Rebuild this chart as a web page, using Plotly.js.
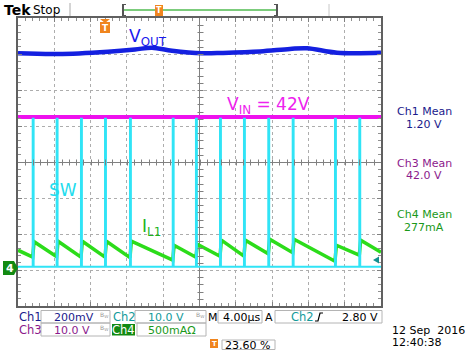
<!DOCTYPE html>
<html>
<head>
<meta charset="utf-8">
<script src="https://cdn.plot.ly/plotly-3.0.1.min.js"></script>
<style>html,body{margin:0;padding:0;background:#fff;}#plot{width:468px;height:351px;}</style>
</head>
<body>
<div id="plot"></div>
<script>
// ---- data read from the scope screen ----
// switching instants of SW (µs, relative to screen centre)
const swTimes   = [-18.38,-15.74,-13.06,-10.41,-7.66,-2.95,-0.39,2.26,4.90,7.58,10.27,14.93,17.61];
// inductor current just before each switching edge and just after (mA)
const ilValley  = [153,160,153,153,146,111,153,167,167,201,215,97,181];
const ilPeak    = [368,375,375,375,375,319,333,389,389,403,403,319,389];
const ilStartEnd = [250,222];          // mA at left / right screen edge
// output voltage (V) along the screen
const voutTimes = [-20,-15.59,-10.08,-7.11,-5.23,-3.03,0.28,2.59,6.67,9.97,11.85,15.15,20];
const voutVals  = [1.194,1.190,1.203,1.215,1.225,1.208,1.194,1.196,1.204,1.218,1.222,1.197,1.197];
const vinVals   = [42.0,42.0];          // V
const swLevels  = [0.4,41.5];           // low / high (V)
const meanLabels = ["1.20 V","42.0 V","277mA"];

// ---- channel settings (V/div etc.) ----
const gnd = -2.95;                      // ground position, div
const sc = {ch1:0.2, ch2:10, ch3:10, ch4:500};
const toDiv = (v,s) => v/s + gnd;

// SW trace
const swX=[-20], swY=[toDiv(swLevels[0],sc.ch2)];
swTimes.forEach(t=>{
  swX.push(t,t,t+0.1,t+0.1);
  swY.push(toDiv(swLevels[0],sc.ch2),toDiv(swLevels[1],sc.ch2),toDiv(swLevels[1],sc.ch2),toDiv(swLevels[0],sc.ch2));
});
swX.push(20); swY.push(toDiv(swLevels[0],sc.ch2));

// IL1 trace
const ilX=[-20], ilY=[toDiv(ilStartEnd[0],sc.ch4)];
swTimes.forEach((t,i)=>{
  ilX.push(t,t+0.15);
  ilY.push(toDiv(ilValley[i],sc.ch4),toDiv(ilPeak[i],sc.ch4));
});
ilX.push(20); ilY.push(toDiv(ilStartEnd[1],sc.ch4));

const traces = [
  {x:[-20,20], y:vinVals.map(v=>toDiv(v,sc.ch3)), mode:'lines', line:{color:'#ee11ee',width:4}, hoverinfo:'skip'},
  {x:voutTimes, y:voutVals.map(v=>toDiv(v,sc.ch1)), mode:'lines', line:{color:'#1420e0',width:4.5,shape:'spline'}, hoverinfo:'skip'},
  {x:ilX, y:ilY, mode:'lines', line:{color:'#2cdc1a',width:3.5}, hoverinfo:'skip'},
  {x:swX, y:swY, mode:'lines', line:{color:'#30e4f6',width:2}, hoverinfo:'skip'}
];

// ---- decoration helpers (pixel -> paper) ----
const L=18,R=381,T=18,B=306;
const P = x => (x-L)/(R-L);
const Q = y => (B-y)/(B-T);
const shapes=[], ann=[];
function rect(x0,y0,x1,y1,lc,fill,lw){shapes.push({type:'rect',xref:'paper',yref:'paper',x0:P(x0),x1:P(x1),y0:Q(y1),y1:Q(y0),line:{color:lc||'rgba(0,0,0,0)',width:lw===undefined?1:lw},fillcolor:fill||'rgba(0,0,0,0)'});}
function line(x0,y0,x1,y1,c,w){shapes.push({type:'line',xref:'paper',yref:'paper',x0:P(x0),x1:P(x1),y0:Q(y0),y1:Q(y1),line:{color:c,width:w||1}});}
function path(pts,fill){let s='M'+pts.map(p=>P(p[0]).toFixed(5)+','+Q(p[1]).toFixed(5)).join(' L')+' Z';shapes.push({type:'path',xref:'paper',yref:'paper',path:s,fillcolor:fill,line:{width:0}});}
function txt(t,x,y,o){o=o||{};ann.push({text:t,xref:'paper',yref:'paper',x:P(x),y:Q(y),xanchor:o.xa||'left',yanchor:o.ya||'middle',showarrow:false,borderpad:0,
  font:{family:o.fam||'DejaVu Sans, Verdana, sans-serif',size:o.s||11,color:o.c||'#000',weight:o.w||'normal'},bgcolor:o.bg||'rgba(0,0,0,0)'});}
const X = u => L + (u+20)/40*(R-L);
const Y = v => B - (v+4)/8*(B-T);
const snap = p => Math.round(p)+0.5;

// crosshair ticks (1/5 div)
for(let k=-19; k<=19; k++){ const y=snap(Y(k*0.2)); line(snap(X(0))-3,y,snap(X(0))+3,y,'#808080',1); }
for(let k=-24; k<=24; k++){ const x=snap(X(k*0.8)); line(x,snap(Y(0))-3,x,snap(Y(0))+3,'#808080',1); }

// header
txt('<b>Tek</b>',3,10,{s:14,fam:'DejaVu Sans, sans-serif'});
txt('Stop',32,10,{s:12});
line(70,3,70,16,'#aaa',1);
line(123,10,277,10,'#7ccc7c',2);
path([[122,4],[126,4],[126,5],[124,5],[124,15],[126,15],[126,16],[122,16]],'#555');
path([[278,4],[274,4],[274,5],[276,5],[276,15],[274,15],[274,16],[278,16]],'#555');
line(329,4,329,16,'#c8c8c8',1);
rect(155,5,163,16,null,'#f0851e',0);
txt('<b>T</b>',159,11,{xa:'center',s:8,c:'#fff'});
// trigger position marker on screen
path([[100,19],[110,19],[105,23]],'#f0851e');
rect(100,22,110,33,null,'#f0851e',0);
txt('<b>T</b>',105,27.5,{xa:'center',s:9,c:'#fff'});

// channel 4 ground marker
path([[3,261],[14,261],[18,268],[14,275],[3,275]],'#128a12');
txt('<b>4</b>',9.5,268,{xa:'center',s:11,c:'#fff'});
// trigger level arrow
path([[373,260],[379,256.5],[379,263.5]],'#138f8f');

// waveform labels
txt('V<sub>OUT</sub>',128,38,{s:17,c:'#1a1aee'});
txt('V<sub>IN</sub> = 42V',226,105,{s:17,c:'#ee22ee'});
txt('SW',48,189.5,{s:17,c:'#22dcee'});
txt('I<sub>L1</sub>',141,227,{s:17,c:'#1cb41c'});

// mean readouts
txt('Ch1 Mean',424,112,{xa:'center',s:11,c:'#1a1a8c'});
txt(meanLabels[0],424,124,{xa:'center',s:11,c:'#1a1a8c'});
txt('Ch3 Mean',424,163,{xa:'center',s:11,c:'#8c1a8c'});
txt(meanLabels[1],424,175,{xa:'center',s:11,c:'#8c1a8c'});
txt('Ch4 Mean',424,214,{xa:'center',s:11,c:'#1a991a'});
txt(meanLabels[2],424,227,{xa:'center',s:11,c:'#1a991a'});

// bottom readout
const bc='#b4b4b4';
rect(41,310.5,110,323,bc); rect(135,310.5,206,323,bc); rect(218,310.5,262,323,bc); rect(275,310.5,382,323,bc);
rect(41,323,110,336,bc); rect(137,323,206,336,bc);
rect(112,324,135,335.5,null,'#128a12',0);
rect(222,340,275,349.5,bc);
rect(210,339,218,348,null,'#f0851e',0);
txt('Ch1',18,317,{s:11.5,c:'#1a1a8c'});
txt('200mV',74,317,{xa:'center',s:11,c:'#1a1a8c'});
txt('B<sub>W</sub>',104,315,{xa:'center',s:6,c:'#999'});
txt('Ch2',112,317,{s:11.5,c:'#129a9a'});
txt('10.0 V',166,317,{xa:'center',s:11,c:'#129a9a'});
txt('B<sub>W</sub>',200,315,{xa:'center',s:6,c:'#999'});
txt('M',207,317,{s:11});
txt('4.00µs',241,317,{xa:'center',s:11});
txt('A',269,317,{xa:'center',s:11});
txt('Ch2',290,317,{s:11.5,c:'#129a9a'});
shapes.push({type:'path',xref:'paper',yref:'paper',path:'M'+P(315)+','+Q(321)+' L'+P(318)+','+Q(321)+' L'+P(320)+','+Q(313)+' L'+P(323)+','+Q(313),line:{color:'#000',width:1.2}});
txt('2.80 V',360,317,{xa:'center',s:11});
txt('Ch3',18,330,{s:11.5,c:'#8c1a8c'});
txt('10.0 V',72,330,{xa:'center',s:11,c:'#8c1a8c'});
txt('B<sub>W</sub>',104,328,{xa:'center',s:6,c:'#999'});
txt('Ch4',123.5,330,{xa:'center',s:11.5,c:'#fff'});
txt('500mAΩ',172,330,{xa:'center',s:11,c:'#1a991a'});
txt('<b>T</b>',214,343.5,{xa:'center',s:7,c:'#fff'});
txt('23.60 %',247,345,{xa:'center',s:11});
txt('12 Sep  2016',391,330,{s:11});
txt('12:40:38',391,342,{s:11});

const layout = {
  width:468, height:351,
  margin:{l:18,r:87,t:18,b:45,pad:0},
  paper_bgcolor:'#fff', plot_bgcolor:'#fff',
  showlegend:false,
  xaxis:{range:[-20,20], tick0:0, dtick:4, showgrid:true, gridcolor:'#adadad', gridwidth:1, griddash:'dot',
         zeroline:true, zerolinecolor:'#808080', zerolinewidth:1,
         showline:true, linecolor:'#606060', linewidth:2, mirror:'allticks', ticks:'inside', ticklen:4, tickcolor:'#808080', tickwidth:1,
         showticklabels:false, minor:{tick0:0, dtick:0.8, ticks:'inside', ticklen:3, tickcolor:'#909090', showgrid:false}, fixedrange:true},
  yaxis:{range:[-4,4], tick0:0, dtick:1, showgrid:true, gridcolor:'#adadad', gridwidth:1, griddash:'dot',
         zeroline:true, zerolinecolor:'#808080', zerolinewidth:1,
         showline:true, linecolor:'#606060', linewidth:2, mirror:'allticks', ticks:'inside', ticklen:4, tickcolor:'#808080', tickwidth:1,
         showticklabels:false, minor:{tick0:0, dtick:0.2, ticks:'inside', ticklen:3, tickcolor:'#909090', showgrid:false}, fixedrange:true},
  shapes:shapes, annotations:ann
};
Plotly.newPlot('plot', traces, layout, {staticPlot:true, displayModeBar:false});
</script>
</body>
</html>
